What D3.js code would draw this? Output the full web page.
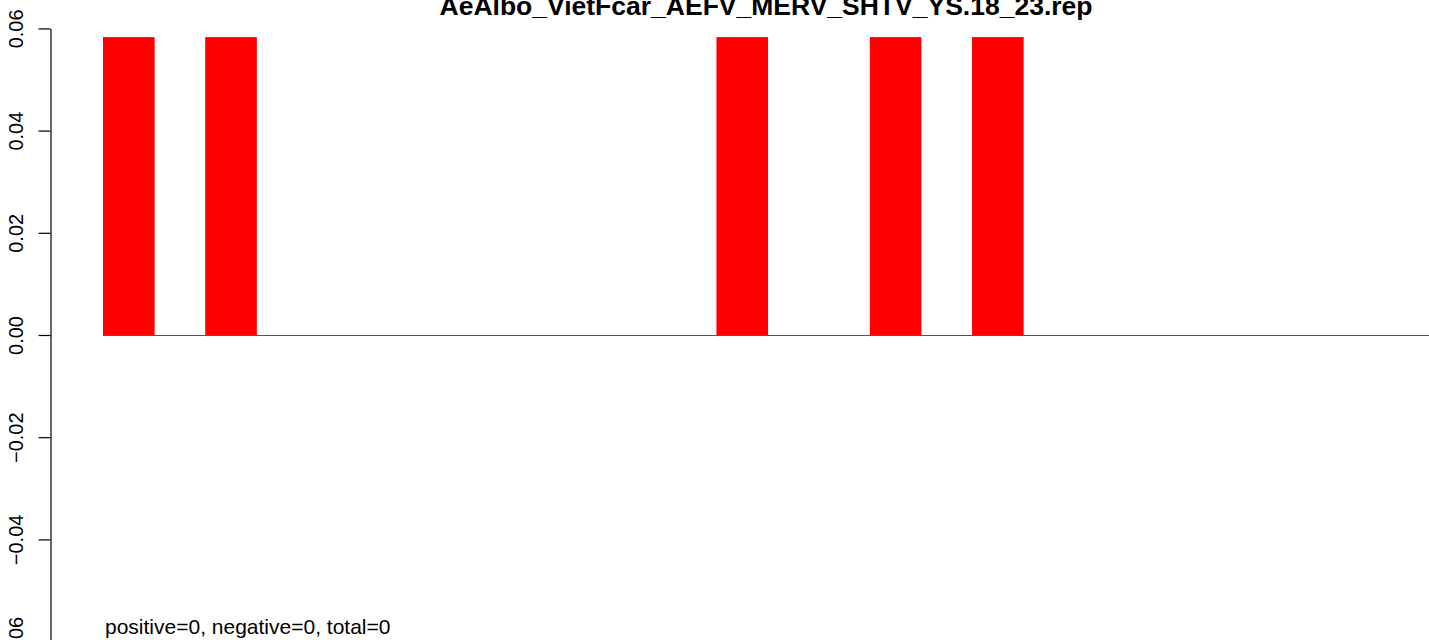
<!DOCTYPE html>
<meta charset="utf-8">
<script src="https://d3js.org/d3.v7.min.js"></script>
<style>
* { padding: 0; margin: 0; }
body { background: #fff; }
svg { display: block; font-family: "Liberation Sans", Arial, Helvetica, sans-serif; }
</style>
<svg width="1429" height="640"></svg>
<script>
// bar slots along the x axis (no names are shown in the plot)
let categories = ["1", "2", "3", "4", "5", "6", "7", "8", "9", "10", "11", "12", "13",
                  "14", "15", "16", "17", "18", "19", "20", "21", "22", "23", "24", "25", "26"]
let values = [0.0583, 0, 0.0583, 0, 0, 0, 0, 0, 0, 0, 0, 0, 0.0583,
              0, 0, 0.0583, 0, 0.0583, 0, 0, 0, 0, 0, 0, 0, 0]
let yTicks = [-0.06, -0.04, -0.02, 0, 0.02, 0.04, 0.06]
let title = "AeAlbo_VietFcar_AEFV_MERV_SHTV_YS.18_23.rep"
let note = "positive=0, negative=0, total=0"

let svg = d3.select("svg")

let x = d3.scaleBand()
    .domain(categories)
    .range([103, 103 + 26 * 51.12])
    .padding(0)

let y = d3.scaleLinear()
    .domain([-0.06, 0.06])
    .range([641.6, 28.4])

// bars
svg.append("g")
  .selectAll("rect")
  .data(values)
  .join("rect")
    .attr("x", (d, i) => x(categories[i]))
    .attr("width", x.bandwidth() + 0.5)
    .attr("y", d => y(Math.max(d, 0)))
    .attr("height", d => Math.abs(y(d) - y(0)))
    .attr("fill", "#ff0000")

// zero line
svg.append("line")
    .attr("x1", x.range()[0])
    .attr("x2", x.range()[1])
    .attr("y1", y(0) + 0.5)
    .attr("y2", y(0) + 0.5)
    .attr("stroke", "#555")
    .attr("stroke-width", 1.2)

// y axis, R style with rotated labels
let yAxis = svg.append("g")
    .attr("transform", "translate(50.5,0)")
    .call(d3.axisLeft(y)
        .tickValues(yTicks)
        .tickSize(12)
        .tickSizeOuter(0)
        .tickFormat(d3.format(".2f")))

yAxis.select(".domain").attr("stroke", "#000").attr("stroke-width", 1.2)
yAxis.selectAll(".tick line").attr("stroke", "#000").attr("stroke-width", 1.2)
yAxis.selectAll(".tick text")
    .attr("transform", "rotate(-90)")
    .attr("x", 0)
    .attr("y", -28)
    .attr("dy", 0)
    .attr("text-anchor", "middle")
    .attr("fill", "#000")
    .style("font-size", "20px")
    .style("font-family", "'Liberation Sans', Arial, Helvetica, sans-serif")

// title
svg.append("text")
    .attr("x", 766)
    .attr("y", 15)
    .attr("text-anchor", "middle")
    .style("font-size", "26.5px")
    .style("font-weight", "bold")
    .text(title)

// counts note
svg.append("text")
    .attr("x", 105)
    .attr("y", 634)
    .style("font-size", "21px")
    .text(note)
</script>
